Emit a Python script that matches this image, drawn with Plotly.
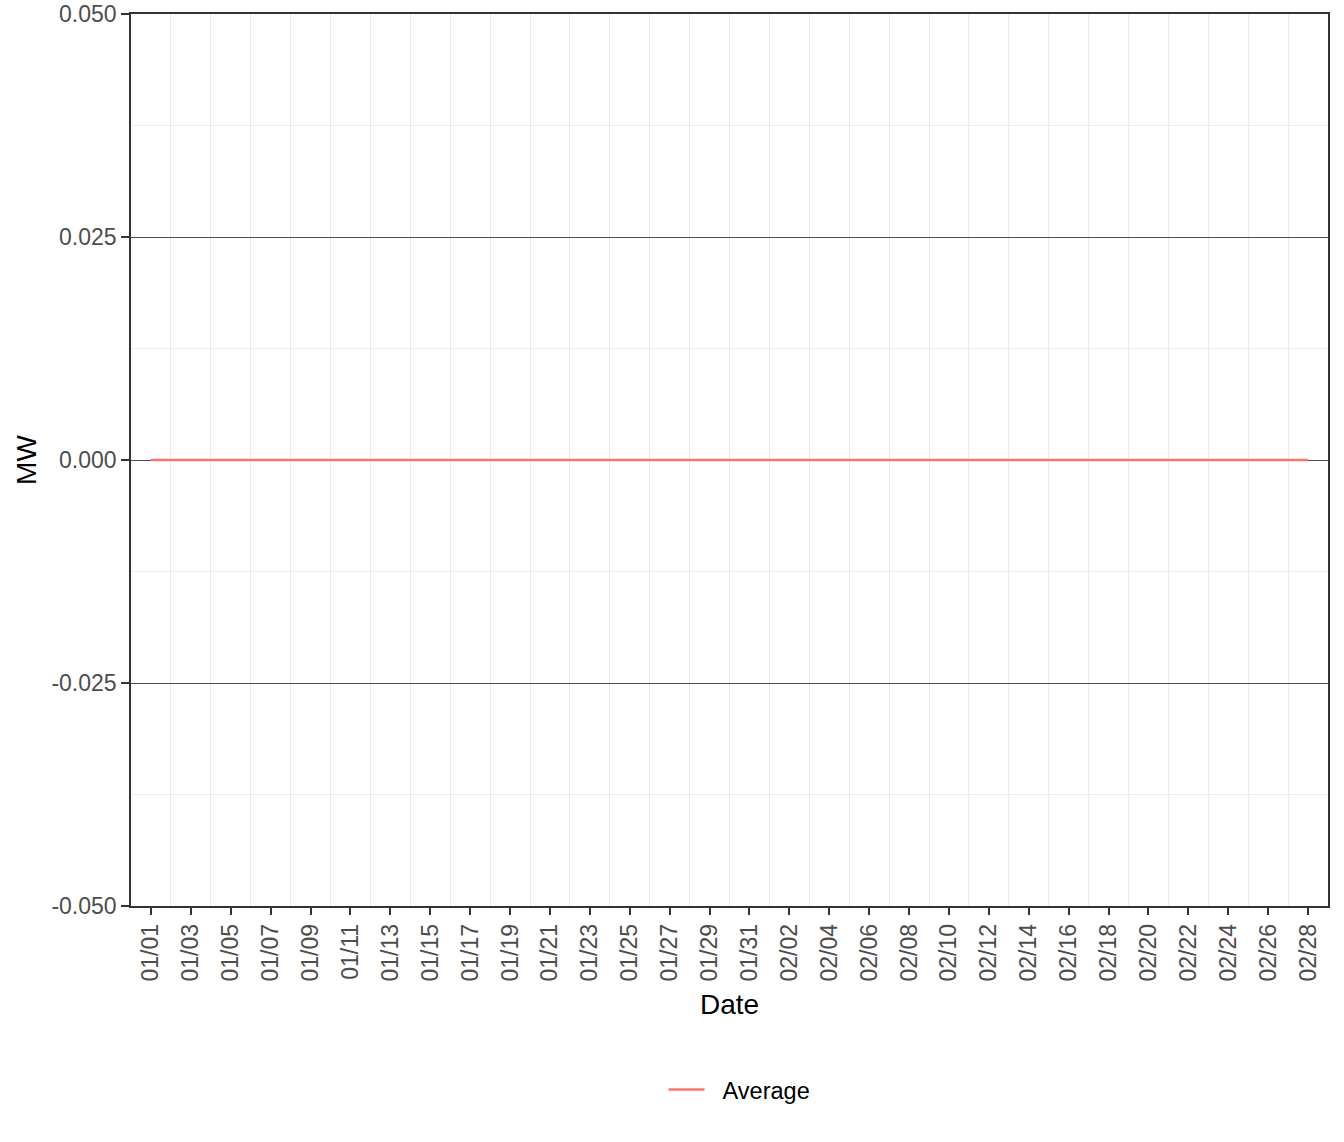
import plotly.graph_objects as go
import pandas as pd

# daily dates shown on the x axis
dates = pd.date_range("2021-01-01", "2021-02-28", freq="D")

# average power per day (flat at zero in the source)
average_mw = [
    0, 0, 0, 0, 0, 0, 0, 0, 0, 0, 0, 0, 0, 0, 0, 0, 0, 0, 0, 0,
    0, 0, 0, 0, 0, 0, 0, 0, 0, 0, 0, 0, 0, 0, 0, 0, 0, 0, 0, 0,
    0, 0, 0, 0, 0, 0, 0, 0, 0, 0, 0, 0, 0, 0, 0, 0, 0, 0, 0,
]

y_ticks = [-0.05, -0.025, 0.0, 0.025, 0.05]
y_labels = ["-0.050", "-0.025", "0.000", "0.025", "0.050"]

DAY = 86400000
FONT = "Liberation Sans"

fig = go.Figure()
fig.add_trace(go.Scatter(
    x=dates, y=average_mw, mode="lines", name="\u00a0\u00a0Average",
    line=dict(color="#F8766D", width=2.5),
))

fig.update_layout(
    width=1344, height=1142,
    margin=dict(l=131, r=16, t=14, b=236),
    paper_bgcolor="white", plot_bgcolor="white",
    font=dict(family=FONT, size=23, color="black"),
    showlegend=True,
    legend=dict(
        orientation="h", x=0.5084, xanchor="center", y=-0.206, yanchor="middle",
        itemwidth=36,
        font=dict(size=23.5, color="black"),
    ),
)

fig.update_xaxes(
    range=["2020-12-31", "2021-03-01"],
    automargin=False,
    tickmode="linear", tick0="2021-01-01", dtick=2 * DAY,
    tickformat="%m/%d", tickangle=-90,
    tickfont=dict(size=23, color="#4d4d4d"),
    ticks="outside", ticklen=7, tickwidth=2, tickcolor="#333333",
    showgrid=False,
    minor=dict(tick0="2021-01-02", dtick=2 * DAY, showgrid=True,
               gridcolor="#ebebeb", gridwidth=1.3),
    showline=True, linecolor="#333333", linewidth=1.5, mirror=True,
    title=dict(text="Date", font=dict(size=28, color="black"), standoff=14),
)

fig.update_yaxes(
    range=[-0.05, 0.05],
    automargin=False,
    ticklabeloverflow="allow",
    tickmode="array", tickvals=y_ticks, ticktext=y_labels,
    tickfont=dict(size=23, color="#4d4d4d"),
    ticks="outside", ticklen=8, tickwidth=2, tickcolor="#333333",
    showgrid=True, gridcolor="#4d4d4d", gridwidth=0.7,
    zeroline=True, zerolinecolor="#4d4d4d", zerolinewidth=0.7,
    minor=dict(dtick=0.0125, showgrid=True, gridcolor="#ebebeb", gridwidth=1.3),
    showline=True, linecolor="#333333", linewidth=1.5, mirror=True,
    title=dict(text="MW", font=dict(size=28, color="black"), standoff=7),
)

# drop the default page margin so the figure sits at the window's corner
fig.write_html("out.html", config={"displayModeBar": False},
               post_script="document.body.style.margin = '0';")
